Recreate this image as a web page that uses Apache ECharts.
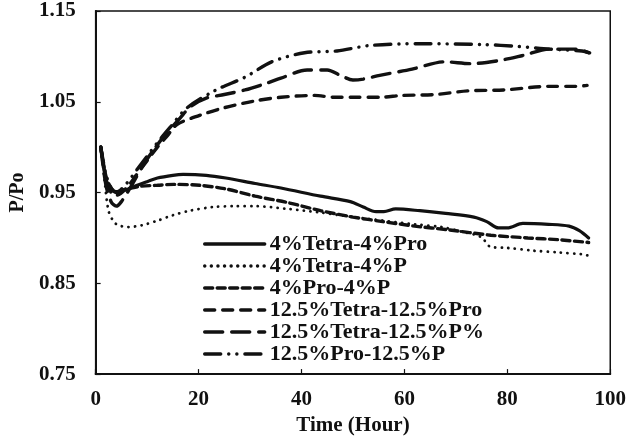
<!DOCTYPE html>
<html>
<head>
<meta charset="utf-8">
<script src="https://cdn.jsdelivr.net/npm/echarts@6/dist/echarts.min.js"></script>
<style>
html,body{margin:0;padding:0;background:#fff;}
#chart{width:629px;height:441px;}
</style>
</head>
<body>
<div id="chart"></div>
<script>
var seriesNames = ['4%Tetra-4%Pro','4%Tetra-4%P','4%Pro-4%P','12.5%Tetra-12.5%Pro','12.5%Tetra-12.5%P%','12.5%Pro-12.5%P'];
var yTicks = [0.75, 0.85, 0.95, 1.05, 1.15];
var xTicks = [0, 20, 40, 60, 80, 100];

var tetra4Pro4 = [[1,1.0],[2,0.965],[3,0.953],[4.5,0.951],[6,0.953],[7.6,0.957],[10,0.962],[12,0.966],[15,0.969],[17,0.970],[21.5,0.969],[25.3,0.966],[31,0.960],[36,0.955],[43.7,0.946],[49.5,0.940],[52,0.934],[54.5,0.929],[56,0.929],[58.3,0.932],[63,0.930],[68,0.927],[73.5,0.923],[76,0.918],[78.3,0.911],[80,0.911],[83,0.916],[88,0.915],[92,0.913],[94,0.908],[95.8,0.900]];
var tetra4P4 = [[1,1.0],[1.8,0.96],[2.5,0.930],[3.5,0.918],[4.4,0.914],[6.3,0.912],[9,0.914],[12,0.919],[15,0.925],[18.3,0.930],[22.8,0.934],[27,0.935],[31,0.935],[37.3,0.932],[43.7,0.928],[50,0.923],[56,0.919],[62,0.915],[67.2,0.912],[71,0.907],[74.9,0.901],[76.8,0.890],[80,0.889],[85,0.886],[90,0.884],[94.5,0.882],[96,0.880]];
var pro4P4 = [[1,1.0],[2,0.968],[3,0.955],[4,0.951],[6,0.954],[8.8,0.957],[12,0.958],[15.2,0.959],[20.2,0.958],[25.3,0.954],[31,0.946],[37.3,0.939],[43.7,0.930],[50,0.923],[55.8,0.918],[62,0.913],[68.5,0.909],[76.8,0.903],[84,0.900],[90,0.898],[95.8,0.895]];
var tetra125Pro125 = [[1,1.0],[2,0.965],[3,0.950],[4,0.947],[6,0.955],[8,0.970],[10,0.985],[12,1.0],[14,1.013],[15.8,1.025],[20.2,1.035],[24.7,1.043],[31,1.051],[36,1.055],[42.5,1.057],[46.3,1.055],[50,1.055],[55.2,1.055],[59.6,1.057],[66,1.058],[72.3,1.062],[79.3,1.063],[88.2,1.067],[93.3,1.067],[95.5,1.068]];
var tetra125P125 = [[1,1.0],[2,0.958],[3,0.940],[4,0.935],[5,0.940],[7,0.958],[9,0.978],[11,0.995],[13,1.010],[16.4,1.032],[18.5,1.045],[21.5,1.054],[25,1.058],[29,1.063],[33,1.070],[36,1.076],[41.1,1.085],[45,1.085],[47.6,1.079],[50,1.074],[52,1.075],[55.2,1.079],[61.5,1.086],[67.8,1.094],[72.9,1.092],[78,1.095],[83,1.101],[88.2,1.108],[93.3,1.108],[95.8,1.104]];
var pro125P125 = [[1,1.0],[2,0.970],[3,0.955],[4,0.950],[6,0.960],[8,0.975],[10,0.990],[12,1.005],[14.5,1.022],[17.7,1.043],[23.4,1.063],[29,1.077],[34.2,1.094],[40.6,1.104],[46.9,1.106],[53.3,1.112],[62.8,1.114],[75.4,1.113],[82,1.111],[88.2,1.108],[94.5,1.106],[96,1.104]];

var seriesData = [tetra4Pro4, tetra4P4, pro4P4, tetra125Pro125, tetra125P125, pro125P125];
var dashTypes = ['solid', [0.1, 6.5], [8, 4.5], [10, 8], [18, 9], [16, 8, 0.1, 8, 0.1, 8]];
var widths = [3.2, 2.8, 3.4, 3.4, 3.4, 3.4];

var chart = echarts.init(document.getElementById('chart'), null, {renderer: 'canvas'});
var font = 'Liberation Serif';
var series = seriesNames.map(function (name, i) {
  return {
    name: name,
    type: 'line',
    data: seriesData[i],
    showSymbol: false,
    symbol: 'none',
    smooth: 0.3,
    animation: false,
    color: '#111',
    itemStyle: {color: '#111'},
    lineStyle: {color: '#111', width: widths[i], type: dashTypes[i], cap: 'round'}
  };
});

chart.setOption({
  backgroundColor: '#fff',
  animation: false,
  color: ['#111'],
  grid: {left: 87, right: 17, top: 11, bottom: 59, show: true, borderColor: '#111', borderWidth: 1.5, backgroundColor: 'transparent'},
  legend: {
    data: seriesNames.map(function (n) { return {name: n}; }),
    orient: 'vertical',
    left: 203,
    top: 233,
    padding: 0,
    itemWidth: 60,
    itemHeight: 14,
    itemGap: 0,
    itemStyle: {opacity: 0},
    lineStyle: {width: 3.4},
    textStyle: {fontFamily: font, fontWeight: 'bold', fontSize: 22, color: '#111', lineHeight: 21.6, padding: [0,0,0,0]}
  },
  xAxis: {
    type: 'value',
    min: 0, max: 100, interval: 20,
    name: 'Time (Hour)',
    nameLocation: 'middle',
    nameGap: 36,
    nameTextStyle: {fontFamily: font, fontWeight: 'bold', fontSize: 21, color: '#111'},
    axisLine: {show: true, lineStyle: {color: '#111', width: 2}},
    axisTick: {show: true, inside: true, length: 5, lineStyle: {color: '#111', width: 1.2}},
    axisLabel: {fontFamily: font, fontWeight: 'bold', fontSize: 21, color: '#111', margin: 15,
      formatter: function (v) { return xTicks.indexOf(v) >= 0 ? String(v) : ''; }},
    splitLine: {show: false}
  },
  yAxis: {
    type: 'value',
    min: 0.75, max: 1.15, interval: 0.1,
    name: 'P/Po',
    nameLocation: 'middle',
    nameGap: 62,
    nameRotate: 90,
    nameTextStyle: {fontFamily: font, fontWeight: 'bold', fontSize: 20, color: '#111'},
    axisLine: {show: true, lineStyle: {color: '#111', width: 2}},
    axisTick: {show: true, inside: true, length: 5, lineStyle: {color: '#111', width: 1.2}},
    axisLabel: {fontFamily: font, fontWeight: 'bold', fontSize: 21, color: '#111', margin: 20,
      formatter: function (v) { return v.toFixed(2); }},
    splitLine: {show: false}
  },
  series: series
});
</script>
</body>
</html>
